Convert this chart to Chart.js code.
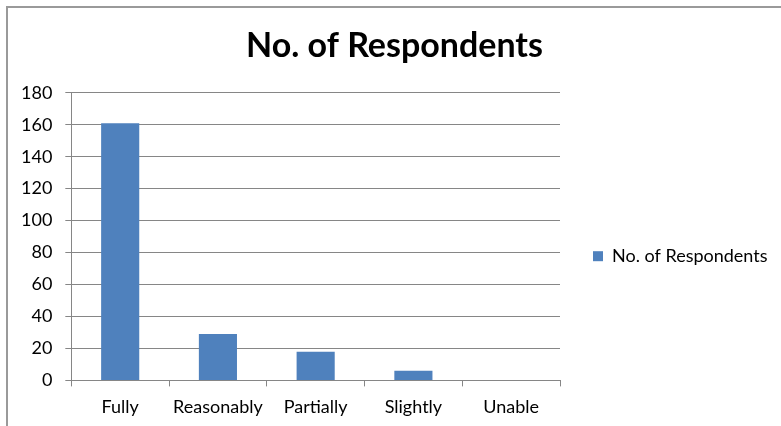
<!DOCTYPE html>
<html>
<head>
<meta charset="utf-8">
<script src="https://cdn.jsdelivr.net/npm/chart.js@4"></script>
<style>
    body { margin: 0; background: #fff; }
    #wrap { position: relative; width: 781px; height: 426px; overflow: hidden; }
    #frame { position: absolute; left: 6px; top: 6px; width: 800px; height: 450px;
             border-left: 2px solid #9a9a9a; border-top: 2px solid #9a9a9a; }
    #myChart { position: absolute; left: 0; top: 0; }
</style>
</head>
<body>
<div id="wrap">
    <div id="frame"></div>
    <canvas id="myChart" width="781" height="426"></canvas>
</div>
<script>
var categories = ["Fully", "Reasonably", "Partially", "Slightly", "Unable"];
var respondents = [161, 29, 18, 6, 0];
var seriesName = "No. of Respondents";

// widen the right legend so the plot ends where the reference one does
var legendWidth = {
    id: "legendWidth",
    beforeLayout: function (chart) {
        let legend = chart.legend;
        if (!legend || legend._patched) return;
        let fit = legend.fit;
        legend.fit = function () {
            fit.call(this);
            this.width = 221;
        };
        legend._patched = true;
    }
};

document.addEventListener("DOMContentLoaded", function () {
    Chart.defaults.font.family = "Lato, 'Liberation Sans', sans-serif";
    Chart.defaults.color = "#000";

    new Chart(document.getElementById("myChart"), {
        type: "bar",
        data: {
            labels: categories,
            datasets: [
                {
                    label: seriesName,
                    backgroundColor: "#4F81BD",
                    data: respondents,
                    barPercentage: 0.39,
                    categoryPercentage: 1
                }
            ]
        },
        options: {
            responsive: false,
            animation: false,
            layout: { padding: { left: 8, right: 0, top: 0, bottom: -2 } },
            plugins: {
                title: {
                    display: true,
                    text: "No. of Respondents",
                    font: { size: 34, weight: "bold" },
                    padding: { top: 26, bottom: 26 }
                },
                legend: {
                    position: "right",
                    // empty title only pushes the entry down
                    title: { display: true, text: "", font: { size: 12 }, padding: { top: 70, bottom: 0 } },
                    labels: {
                        boxWidth: 10,
                        boxHeight: 10,
                        padding: 33,
                        font: { size: 18 }
                    }
                },
                tooltip: { enabled: false }
            },
            scales: {
                x: {
                    border: { color: "#868686" },
                    grid: {
                        offset: true,
                        drawOnChartArea: false,
                        drawTicks: true,
                        tickLength: 6,
                        color: "#868686"
                    },
                    ticks: { font: { size: 18 }, padding: 10, autoSkip: false, maxRotation: 0 }
                },
                y: {
                    min: 0,
                    max: 180,
                    border: { color: "#868686" },
                    grid: { color: "#868686", tickLength: 6 },
                    ticks: { stepSize: 20, font: { size: 18 }, padding: 13 }
                }
            }
        },
        plugins: [legendWidth]
    });
});
</script>
</body>
</html>
